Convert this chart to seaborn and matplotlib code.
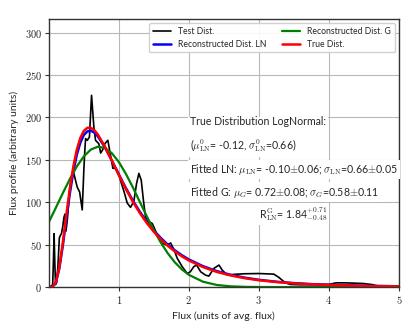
import matplotlib
matplotlib.use("Agg")
import pandas as pd
import matplotlib.pyplot as plt
import seaborn as sns

# Test distribution (black, noisy)
test_x = [0.0, 0.03, 0.055, 0.065, 0.075, 0.085, 0.095, 0.11, 0.13, 0.15, 0.165, 0.18,
          0.2, 0.215, 0.23, 0.245, 0.265, 0.3, 0.33, 0.357, 0.405, 0.44, 0.477, 0.5,
          0.514, 0.525, 0.55, 0.58, 0.61, 0.643, 0.667, 0.714, 0.74, 0.77, 0.8, 0.843,
          0.88, 0.915, 0.96, 0.996, 1.03, 1.076, 1.12, 1.167, 1.214, 1.253, 1.286, 1.32,
          1.35, 1.38, 1.43, 1.477, 1.51, 1.55, 1.62, 1.69, 1.74, 1.79, 1.834, 1.906,
          1.977, 2.02, 2.07, 2.11, 2.17, 2.24, 2.286, 2.357, 2.43, 2.477, 2.55, 2.64,
          2.786, 3.0, 3.214, 3.286, 3.38, 3.45, 3.6, 4.0, 4.1, 4.24, 4.48, 4.62, 4.71, 5.0]
test_y = [0, 1, 3, 30, 63, 30, 3, 5, 25, 58, 61, 63,
          72, 82, 86, 66, 80, 118, 132, 134, 118, 112, 91, 138,
          161, 175, 173, 177, 226, 189, 173, 169, 158, 162, 169, 173,
          156, 140, 140, 134, 124, 112, 99, 94, 101, 122, 134, 126,
          103, 83, 77, 75, 69, 61, 51.5, 49.5, 52, 43.6, 34, 24,
          16, 18, 24, 26, 18, 14, 13, 22, 26, 20, 14, 15,
          15.7, 16, 15.3, 11.4, 5, 3.1, 2.7, 3.1, 5, 5, 4.3, 3, 1, 1]

# Log-normal curves (true and reconstructed)
ln_x = [0.02, 0.05, 0.1, 0.15, 0.2, 0.25, 0.3, 0.35, 0.4, 0.45, 0.5, 0.55, 0.6, 0.65,
        0.7, 0.8, 0.9, 1.0, 1.1, 1.2, 1.3, 1.4, 1.5, 1.6, 1.7, 1.8, 1.9, 2.0, 2.2, 2.4,
        2.6, 2.8, 3.0, 3.25, 3.5, 3.75, 4.0, 4.5, 5.0]
true_y = [0, 0.2, 5.7, 23.8, 52.6, 85.2, 116.1, 142.1, 162.1, 175.8, 184.1, 187.7, 187.7,
          184.8, 179.8, 165.7, 149.1, 132.0, 115.7, 100.7, 87.3, 75.5, 65.2, 56.3, 48.6,
          42.0, 36.3, 31.4, 23.7, 17.9, 13.7, 10.5, 8.1, 6.0, 4.4, 3.3, 2.5, 1.4, 0.9]
recon_ln_y = [0, 0.18, 5.1, 22.0, 49.2, 80.4, 110.4, 136.1, 156.2, 170.3, 179.3, 183.5,
              184.3, 182.1, 177.7, 164.9, 149.1, 132.7, 116.8, 102.0, 88.8, 77.0, 66.7,
              57.8, 50.0, 43.3, 37.6, 32.6, 24.7, 18.8, 14.4, 11.1, 8.6, 6.3, 4.7, 3.5,
              2.7, 1.6, 0.9]

# Gaussian reconstruction
g_x = [0.0, 0.1, 0.2, 0.3, 0.4, 0.5, 0.6, 0.7, 0.8, 0.9, 1.0, 1.1, 1.2, 1.3, 1.4, 1.5,
       1.6, 1.7, 1.8, 1.9, 2.0, 2.2, 2.4, 2.6, 2.8, 3.0, 3.5, 4.0, 5.0]
recon_g_y = [76.6, 93.5, 110.8, 127.4, 142.2, 154.1, 162.1, 165.5, 164.0, 157.8, 147.4,
             133.6, 117.6, 100.4, 83.3, 67.0, 52.4, 39.7, 29.2, 20.9, 14.5, 6.4, 2.5,
             0.9, 0.3, 0.1, 0, 0, 0]

xtick_vals = [1, 2, 3, 4, 5]
ytick_vals = [0, 50, 100, 150, 200, 250, 300]

sns.set_theme(style="whitegrid")
plt.rcParams['font.family'] = ['Lato', 'DejaVu Sans']
plt.rcParams['mathtext.fontset'] = 'cm'

fig = plt.figure(figsize=(4.07, 3.27), dpi=100)
ax = fig.add_axes([0.120, 0.122, 0.860, 0.820])

sns.lineplot(x=test_x, y=test_y, color='black', lw=1.2, label='Test Dist.', ax=ax)
sns.lineplot(x=ln_x, y=recon_ln_y, color='blue', lw=1.8, label='Reconstructed Dist. LN', ax=ax)
sns.lineplot(x=g_x, y=recon_g_y, color='green', lw=1.6, label='Reconstructed Dist. G', ax=ax)
sns.lineplot(x=ln_x, y=true_y, color='red', lw=1.8, label='True Dist.', ax=ax)

ax.set_xlim(0, 5)
ax.set_ylim(0, 316)
ax.set_xticks(xtick_vals)
ax.set_xticklabels([f'${v}$' for v in xtick_vals])
ax.set_yticks(ytick_vals)
ax.set_yticklabels([f'${v}$' for v in ytick_vals])
ax.tick_params(direction='out', length=3, width=0.8, color='#333333', labelsize=7.5,
               pad=2, bottom=True, left=True)
ax.grid(True, color='#b8b8b8', lw=0.8)
for s in ax.spines.values():
    s.set_color('#333333')
    s.set_linewidth(1.0)

ax.set_xlabel('Flux (units of avg. flux)', fontsize=7.5, labelpad=4)
ax.set_ylabel('Flux profile (arbitrary units)', fontsize=7.5, labelpad=4)

ax.legend(loc='upper right', ncol=2, fontsize=6.2, frameon=True, handlelength=2.2,
          borderpad=0.4, labelspacing=0.5, columnspacing=1.7, fancybox=True,
          framealpha=0.9, edgecolor='#cccccc')

box = dict(facecolor='white', edgecolor='none', pad=1.5)
ax.text(2.02, 179, 'True Distribution LogNormal:\n'
        r'($\mu^{0}_{\rm LN}$= -0.12, $\sigma^{0}_{\rm LN}$=0.66)',
        fontsize=7.6, va='center', ha='left', linespacing=1.9, bbox=box)
ax.text(2.02, 139, r'Fitted LN: $\mu_{\rm LN}$= -0.10$\pm$0.06; $\sigma_{\rm LN}$=0.66$\pm$0.05',
        fontsize=7.6, va='center', ha='left', bbox=box)
ax.text(2.02, 112, r'Fitted G: $\mu_{G}$= 0.72$\pm$0.08; $\sigma_{G}$=0.58$\pm$0.11',
        fontsize=7.6, va='center', ha='left', bbox=box)
ax.text(3.0, 86, r'R$^{\rm G}_{\rm LN}$= 1.84$^{+0.71}_{-0.48}$',
        fontsize=7.6, va='center', ha='left', bbox=box)

fig.savefig('out.png', dpi=100)
